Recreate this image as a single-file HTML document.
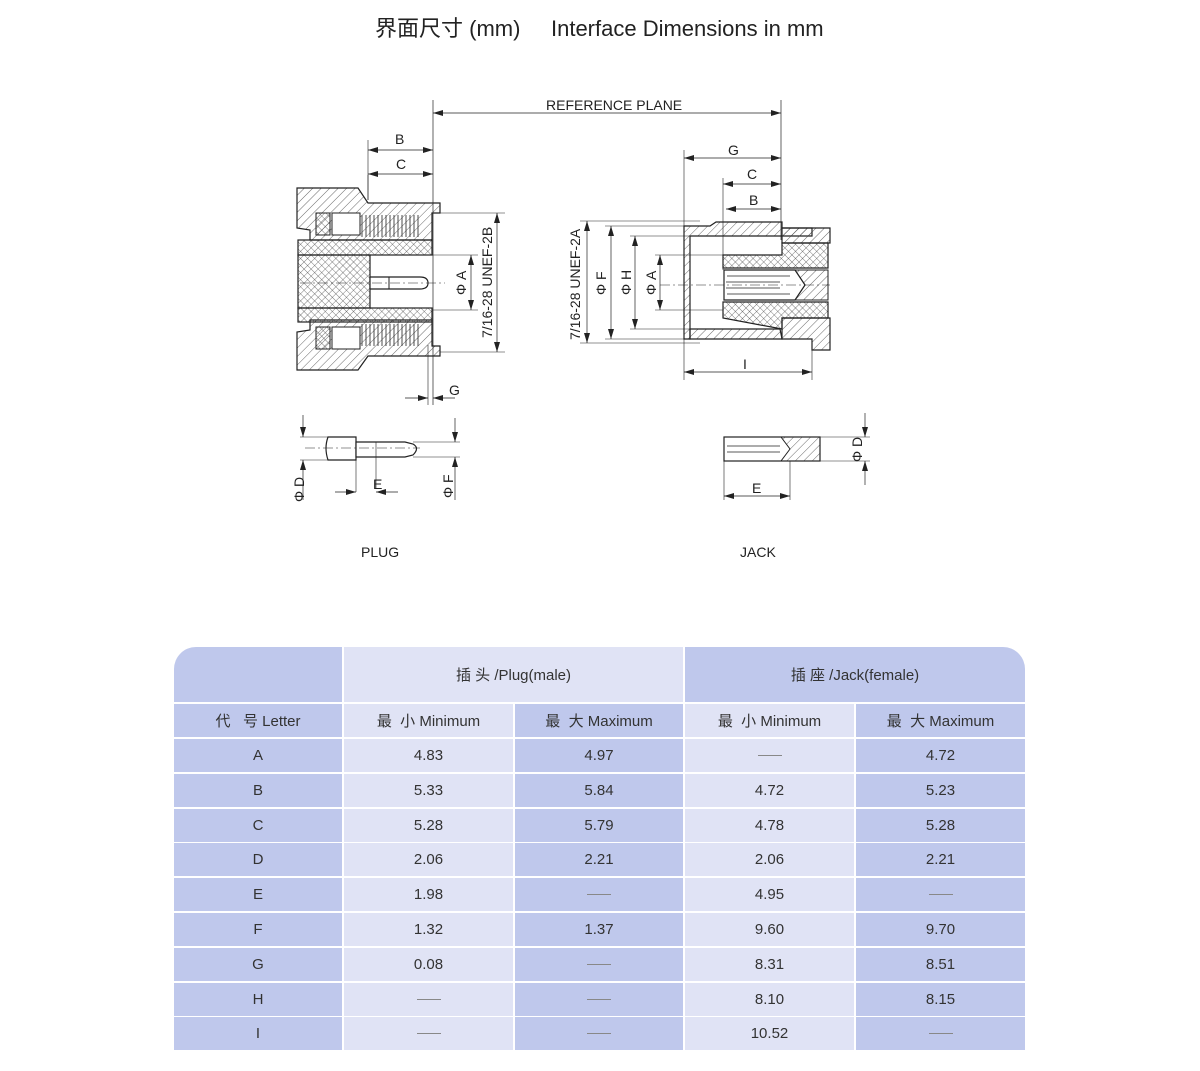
<!DOCTYPE html>
<html><head><meta charset="utf-8"><style>
html,body{margin:0;padding:0;background:#fff;}
body{width:1200px;height:1071px;position:relative;overflow:hidden;font-family:"Liberation Sans","Noto Sans CJK SC",sans-serif;color:#222;}
.t{position:absolute;white-space:nowrap;}
.c{position:absolute;display:flex;align-items:center;justify-content:center;font-size:15px;color:#333;}
.d{background:#bfc8ec;}
.l{background:#e0e3f5;}
svg text{font-family:"Liberation Sans","Noto Sans CJK SC",sans-serif;fill:#222;}
</style></head><body>
<div class="t" style="left:375px;top:11px;font-size:22px;">界面尺寸 (mm)&nbsp;&nbsp;&nbsp;&nbsp;&nbsp;Interface Dimensions in mm</div>

<svg width="1200" height="600" style="position:absolute;left:0;top:0" xmlns="http://www.w3.org/2000/svg">
<defs>
<pattern id="h" width="6" height="6" patternUnits="userSpaceOnUse" patternTransform="rotate(45)"><line x1="0" y1="0" x2="0" y2="6" stroke="#444" stroke-width="0.8"/></pattern>
<pattern id="x" width="5" height="5" patternUnits="userSpaceOnUse" patternTransform="rotate(45)"><line x1="0" y1="0" x2="0" y2="5" stroke="#444" stroke-width="0.7"/><line x1="0" y1="0" x2="5" y2="0" stroke="#444" stroke-width="0.7"/></pattern>
<marker id="a" markerWidth="10" markerHeight="6" refX="10" refY="3" orient="auto-start-reverse" markerUnits="userSpaceOnUse"><path d="M0,0 L10,3 L0,6z" fill="#222"/></marker>
</defs>
<g stroke="#222" stroke-width="1" fill="none">
<!-- reference plane -->
<line x1="433" y1="100" x2="433" y2="405" stroke-width="0.7"/>
<line x1="781" y1="100" x2="781" y2="240" stroke-width="0.7"/>
<line x1="433" y1="113" x2="781" y2="113" stroke-width="0.7" marker-start="url(#a)" marker-end="url(#a)"/>
<!-- PLUG -->
<path d="M297,188 L358,188 L368,203 L440,203 L440,213 L432,213 L432,240 L310,240 L310,230 L297,228 Z" fill="url(#h)" stroke-width="1.2"/>
<path d="M297,370 L358,370 L368,356 L440,356 L440,346 L432,346 L432,320 L310,320 L310,330 L297,332 Z" fill="url(#h)" stroke-width="1.2"/>
<rect x="298" y="240" width="134" height="15" fill="url(#x)" stroke-width="1.2"/>
<rect x="298" y="308" width="134" height="14" fill="url(#x)" stroke-width="1.2"/>
<rect x="298" y="255" width="72" height="53" fill="url(#x)" stroke-width="1.2"/>
<rect x="316" y="213" width="14" height="22" fill="url(#x)"/>
<rect x="316" y="327" width="14" height="22" fill="url(#x)"/>
<rect x="332" y="213" width="28" height="22" fill="#fff"/>
<rect x="332" y="327" width="28" height="22" fill="#fff"/>
<g stroke-width="0.8">
<path d="M362,215 v22 M366,215 v22 M370,215 v22 M374,215 v22 M378,215 v22 M382,215 v22 M386,215 v22 M390,215 v22 M394,215 v22 M398,215 v22 M402,215 v22 M406,215 v22 M410,215 v22 M414,215 v22 M418,215 v22"/>
<path d="M362,324 v22 M366,324 v22 M370,324 v22 M374,324 v22 M378,324 v22 M382,324 v22 M386,324 v22 M390,324 v22 M394,324 v22 M398,324 v22 M402,324 v22 M406,324 v22 M410,324 v22 M414,324 v22 M418,324 v22"/>
</g>
<path d="M370,277 L420,277 Q428,277 428,283 Q428,289 420,289 L370,289 Z" fill="#fff" stroke-width="1.2"/>
<line x1="389" y1="277" x2="389" y2="289"/>
<line x1="300" y1="283" x2="445" y2="283" stroke-dasharray="10,3,2,3" stroke-width="0.6"/>
<line x1="440" y1="213" x2="505" y2="213" stroke-width="0.6"/><line x1="440" y1="352" x2="505" y2="352" stroke-width="0.6"/>
<line x1="497" y1="213" x2="497" y2="352" marker-start="url(#a)" marker-end="url(#a)" stroke-width="0.7"/>
<line x1="432" y1="255" x2="478" y2="255" stroke-width="0.6"/><line x1="432" y1="310" x2="478" y2="310" stroke-width="0.6"/>
<line x1="471" y1="255" x2="471" y2="310" marker-start="url(#a)" marker-end="url(#a)" stroke-width="0.7"/>
<line x1="368" y1="140" x2="368" y2="200" stroke-width="0.6"/><line x1="368" y1="175" x2="368" y2="200" stroke-width="0.6"/>
<line x1="368" y1="150" x2="433" y2="150" marker-start="url(#a)" marker-end="url(#a)" stroke-width="0.7"/>
<line x1="368" y1="174" x2="433" y2="174" marker-start="url(#a)" marker-end="url(#a)" stroke-width="0.7"/>
<line x1="428" y1="345" x2="428" y2="405" stroke-width="0.6"/>
<line x1="405" y1="398" x2="428" y2="398" marker-end="url(#a)" stroke-width="0.7"/>
<line x1="455" y1="398" x2="433" y2="398" marker-end="url(#a)" stroke-width="0.7"/>
<!-- JACK -->
<path d="M684,226 L710,226 L716,222 L782,222 L782,228 L812,228 L812,236 L690,236 L690,339 L684,339 Z" fill="url(#h)" stroke-width="1.2"/>
<path d="M690,329 L780,329 L782,339 L710,339 L690,339 Z" fill="url(#h)" stroke-width="1.2"/>
<path d="M782,228 L830,228 L830,243 L782,243 Z" fill="url(#h)" stroke-width="1.2"/>
<path d="M782,243 L828,243 L828,268 L723,268 L723,255 L782,255 Z" fill="url(#x)" stroke-width="1.2"/>
<path d="M723,302 L828,302 L828,318 L782,318 L782,329 L723,318 Z" fill="url(#x)" stroke-width="1.2"/>
<path d="M782,318 L830,318 L830,350 L812,350 L812,339 L782,339 Z" fill="url(#h)" stroke-width="1.2"/>
<path d="M795,270 L828,270 L828,300 L795,300 L805,285 Z" fill="url(#h)"/>
<path d="M724,270 L795,270 L805,285 L795,300 L724,300 Z" fill="#fff" stroke-width="1.2"/>
<path d="M726,282 L780,282 M726,288 L780,288 M727,276 L790,276 M727,294 L790,294" stroke-width="0.8"/>
<line x1="660" y1="285" x2="830" y2="285" stroke-dasharray="10,3,2,3" stroke-width="0.6"/>
<line x1="684" y1="150" x2="684" y2="380" stroke-width="0.6"/>
<line x1="723" y1="178" x2="723" y2="270" stroke-width="0.6"/>
<line x1="684" y1="158" x2="781" y2="158" marker-start="url(#a)" marker-end="url(#a)" stroke-width="0.7"/>
<line x1="723" y1="184" x2="781" y2="184" marker-start="url(#a)" marker-end="url(#a)" stroke-width="0.7"/>
<line x1="726" y1="209" x2="781" y2="209" marker-start="url(#a)" marker-end="url(#a)" stroke-width="0.7"/>
<line x1="812" y1="345" x2="812" y2="380" stroke-width="0.6"/>
<line x1="684" y1="372" x2="812" y2="372" marker-start="url(#a)" marker-end="url(#a)" stroke-width="0.7"/>
<line x1="580" y1="221" x2="700" y2="221" stroke-width="0.6"/><line x1="580" y1="343" x2="700" y2="343" stroke-width="0.6"/>
<line x1="587" y1="221" x2="587" y2="343" marker-start="url(#a)" marker-end="url(#a)" stroke-width="0.7"/>
<line x1="605" y1="226" x2="684" y2="226" stroke-width="0.6"/><line x1="605" y1="339" x2="684" y2="339" stroke-width="0.6"/>
<line x1="611" y1="226" x2="611" y2="339" marker-start="url(#a)" marker-end="url(#a)" stroke-width="0.7"/>
<line x1="630" y1="236" x2="690" y2="236" stroke-width="0.6"/><line x1="630" y1="329" x2="690" y2="329" stroke-width="0.6"/>
<line x1="635" y1="236" x2="635" y2="329" marker-start="url(#a)" marker-end="url(#a)" stroke-width="0.7"/>
<line x1="655" y1="255" x2="723" y2="255" stroke-width="0.6"/><line x1="655" y1="310" x2="723" y2="310" stroke-width="0.6"/>
<line x1="660" y1="255" x2="660" y2="310" marker-start="url(#a)" marker-end="url(#a)" stroke-width="0.7"/>
<!-- plug pin -->
<path d="M328,437 L356,437 L356,460 L328,460 Q324,448 328,437 Z" fill="#fff" stroke-width="1.2"/>
<path d="M356,442 L405,442 L413,444 Q420,448 413,455 L405,457 L356,457 Z" fill="#fff" stroke-width="1.2"/>
<line x1="376" y1="442" x2="376" y2="488" stroke-width="0.6"/>
<line x1="356" y1="460" x2="356" y2="492" stroke-width="0.6"/>
<line x1="305" y1="448" x2="420" y2="448" stroke-dasharray="10,3,2,3" stroke-width="0.6"/>
<line x1="300" y1="437" x2="330" y2="437" stroke-width="0.6"/><line x1="300" y1="460" x2="330" y2="460" stroke-width="0.6"/>
<line x1="303" y1="415" x2="303" y2="437" marker-end="url(#a)" stroke-width="0.7"/>
<line x1="303" y1="500" x2="303" y2="460" marker-end="url(#a)" stroke-width="0.7"/>
<line x1="413" y1="442" x2="460" y2="442" stroke-width="0.6"/><line x1="413" y1="457" x2="460" y2="457" stroke-width="0.6"/>
<line x1="455" y1="418" x2="455" y2="442" marker-end="url(#a)" stroke-width="0.7"/>
<line x1="455" y1="500" x2="455" y2="457" marker-end="url(#a)" stroke-width="0.7"/>
<line x1="335" y1="492" x2="356" y2="492" marker-end="url(#a)" stroke-width="0.7"/>
<line x1="398" y1="492" x2="376" y2="492" marker-end="url(#a)" stroke-width="0.7"/>
<!-- jack pin -->
<rect x="724" y="437" width="96" height="24" fill="#fff" stroke-width="1.2"/>
<path d="M781,437 L820,437 L820,461 L781,461 L790,449 Z" fill="url(#h)"/>
<path d="M727,446 L780,446 M727,452 L780,452" stroke-width="0.8"/>
<line x1="724" y1="437" x2="724" y2="500" stroke-width="0.6"/>
<line x1="790" y1="461" x2="790" y2="500" stroke-width="0.6"/>
<line x1="724" y1="496" x2="790" y2="496" marker-start="url(#a)" marker-end="url(#a)" stroke-width="0.7"/>
<line x1="820" y1="437" x2="870" y2="437" stroke-width="0.6"/><line x1="820" y1="461" x2="870" y2="461" stroke-width="0.6"/>
<line x1="865" y1="413" x2="865" y2="437" marker-end="url(#a)" stroke-width="0.7"/>
<line x1="865" y1="485" x2="865" y2="461" marker-end="url(#a)" stroke-width="0.7"/>
</g>
<g font-size="14">
<text x="546" y="110">REFERENCE PLANE</text>
<text x="395" y="144">B</text><text x="396" y="169">C</text>
<text x="449" y="395">G</text>
<text x="728" y="155">G</text><text x="747" y="179">C</text><text x="749" y="205">B</text>
<text x="743" y="369">I</text>
<text x="361" y="557">PLUG</text><text x="740" y="557">JACK</text>
<text x="373" y="489">E</text><text x="752" y="493">E</text>
<text transform="translate(492,338) rotate(-90)">7/16-28 UNEF-2B</text>
<text transform="translate(466,295) rotate(-90)">Φ A</text>
<text transform="translate(580,340) rotate(-90)">7/16-28 UNEF-2A</text>
<text transform="translate(606,295) rotate(-90)">Φ F</text>
<text transform="translate(631,295) rotate(-90)">Φ H</text>
<text transform="translate(656,295) rotate(-90)">Φ A</text>
<text transform="translate(304,502) rotate(-90)">Φ D</text>
<text transform="translate(453,498) rotate(-90)">Φ F</text>
<text transform="translate(862,462) rotate(-90)">Φ D</text>
</g>
</svg>

<!-- table -->
<div class="c d" style="left:174px;top:647px;width:168px;height:55px;border-top-left-radius:22px;"></div>
<div class="c l" style="left:344px;top:647px;width:339px;height:55px;">插 头 /Plug(male)</div>
<div class="c d" style="left:685px;top:647px;width:340px;height:55px;border-top-right-radius:22px;">插 座 /Jack(female)</div>
<div class="c d" style="left:174px;top:704px;width:168px;height:33px;">代&nbsp;&nbsp;&nbsp;号 Letter</div>
<div class="c l" style="left:344px;top:704px;width:169px;height:33px;">最&nbsp;&nbsp;小 Minimum</div>
<div class="c d" style="left:515px;top:704px;width:168px;height:33px;">最&nbsp;&nbsp;大 Maximum</div>
<div class="c l" style="left:685px;top:704px;width:169px;height:33px;">最&nbsp;&nbsp;小 Minimum</div>
<div class="c d" style="left:856px;top:704px;width:169px;height:33px;">最&nbsp;&nbsp;大 Maximum</div>
<div id="rows"></div>
<script>
var R=[["A","4.83","4.97","—","4.72"],["B","5.33","5.84","4.72","5.23"],["C","5.28","5.79","4.78","5.28"],["D","2.06","2.21","2.06","2.21"],["E","1.98","—","4.95","—"],["F","1.32","1.37","9.60","9.70"],["G","0.08","—","8.31","8.51"],["H","—","—","8.10","8.15"],["I","—","—","10.52","—"]];
var X=[[174,168,"d"],[344,169,"l"],[515,168,"d"],[685,169,"l"],[856,169,"d"]];
var h="";
R.forEach(function(r,i){var y=739+i*34.8;X.forEach(function(c,j){var v=r[j];var s=v=="—"?'<span style="display:inline-block;width:24px;border-top:1px solid #888"></span>':v;h+='<div class="c '+c[2]+'" style="left:'+c[0]+'px;top:'+y+'px;width:'+c[1]+'px;height:33px;">'+s+'</div>';});});
document.getElementById("rows").innerHTML=h;
</script>
</body></html>
